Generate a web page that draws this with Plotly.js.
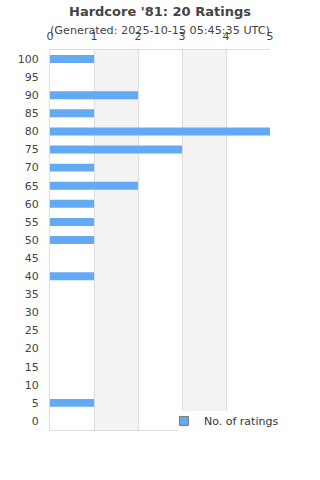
<!DOCTYPE html>
<html>
<head>
<meta charset="utf-8">
<script src="https://cdn.plot.ly/plotly-3.0.1.min.js"></script>
<style>html,body{margin:0;padding:0;background:#fff;}#chart{width:320px;height:480px;}</style>
</head>
<body>
<div id="chart"></div>
<script>
const ratingBins = [0,5,10,15,20,25,30,35,40,45,50,55,60,65,70,75,80,85,90,95,100];
const ratingCounts = [0,1,0,0,0,0,0,0,1,0,1,1,1,2,1,3,5,1,2,0,1];
const xTicks = [0,1,2,3,4,5];
const titleText = "Hardcore '81: 20 Ratings";
const subtitleText = "(Generated: 2025-10-15 05:45:35 UTC)";
const seriesName = "No. of ratings";

const barColor = '#63a9f4';
const font = 'DejaVu Sans, sans-serif';

const traces = [
  {
    type: 'bar', orientation: 'h',
    x: ratingCounts, y: ratingBins,
    width: 2.2,
    marker: {color: barColor},
    showlegend: false, hoverinfo: 'none'
  },
  {
    type: 'scatter', mode: 'markers',
    x: [null], y: [null],
    name: seriesName,
    marker: {symbol: 'square', size: 9, color: barColor, line: {color: '#777', width: 1}},
    hoverinfo: 'none'
  }
];

const shapes = [];
for (let i = 1; i < 5; i += 2) {
  shapes.push({type: 'rect', xref: 'x', yref: 'paper', x0: i, x1: i + 1, y0: 0, y1: 1,
    fillcolor: '#f3f3f3', line: {width: 0}, layer: 'below'});
}
// white legend backdrop covering the lower-right corner of the plot frame
shapes.push({type: 'rect', xref: 'paper', yref: 'paper', x0: 0.582, x1: 1.2, y0: -0.03, y1: 0.05,
  fillcolor: '#fff', line: {width: 0}, layer: 'above'});

const layout = {
  width: 320, height: 480,
  margin: {l: 50, r: 50, t: 50, b: 50},
  paper_bgcolor: '#fff', plot_bgcolor: '#fff',
  font: {family: font, size: 11, color: '#444'},
  showlegend: true,
  legend: {x: 0.518, y: 0.062, xanchor: 'left', yanchor: 'top', bgcolor: 'rgba(0,0,0,0)',
    font: {size: 11, color: '#333'}},
  xaxis: {
    side: 'top', range: [0, 5], tickvals: xTicks, ticktext: xTicks.map(String),
    showgrid: true, gridcolor: '#dddddd', gridwidth: 1,
    showline: true, linecolor: '#dddddd', linewidth: 1, mirror: true,
    zeroline: false, ticks: '', fixedrange: true, ticklabelstandoff: 5,
    tickfont: {size: 11, color: '#444'}
  },
  yaxis: {
    range: [-2.5, 102.5], tickvals: ratingBins, ticktext: ratingBins.map(String),
    showgrid: false, showline: true, linecolor: '#dddddd', linewidth: 1,
    zeroline: false, ticks: 'outside', ticklen: 8, tickcolor: '#fff',
    tickfont: {size: 11, color: '#444'}
  },
  shapes: shapes,
  annotations: [
    {text: '<b>' + titleText + '</b>', xref: 'paper', yref: 'paper', x: 0.5, y: 1,
      xanchor: 'center', yanchor: 'middle', yshift: 39, showarrow: false,
      font: {size: 13, color: '#444'}},
    {text: subtitleText, xref: 'paper', yref: 'paper', x: 0.5, y: 1,
      xanchor: 'center', yanchor: 'middle', yshift: 20, showarrow: false,
      font: {size: 11.2, color: '#444'}}
  ]
};

Plotly.newPlot('chart', traces, layout, {staticPlot: true, displayModeBar: false});
</script>
</body>
</html>
